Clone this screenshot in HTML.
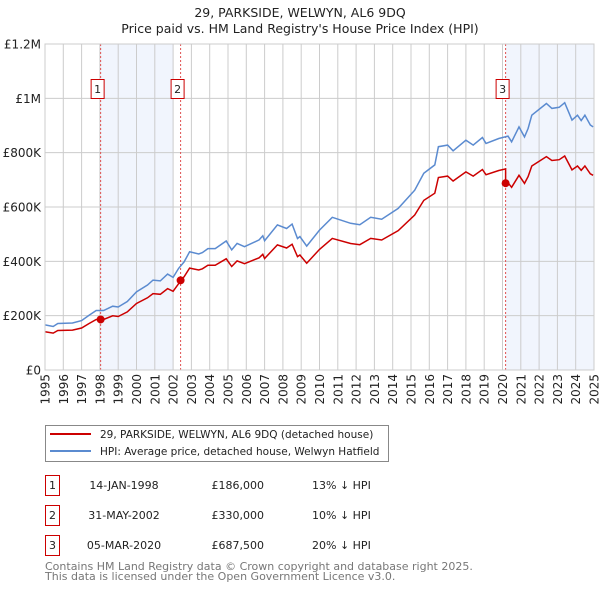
<!DOCTYPE html>
<html><head><meta charset="utf-8"><style>
body{margin:0;background:#fff;}
svg{display:block;font-family:"DejaVu Sans","Liberation Sans",sans-serif;}
</style></head><body>
<svg id="chart" width="600" height="590" viewBox="0 0 600 590" xmlns="http://www.w3.org/2000/svg">
<text x="300" y="17" text-anchor="middle" font-size="12.5" fill="#222">29, PARKSIDE, WELWYN, AL6 9DQ</text>
<text x="300" y="33" text-anchor="middle" font-size="12.5" fill="#222">Price paid vs. HM Land Registry's House Price Index (HPI)</text>
<g id="plot"></g>
<g>
<rect x="45.5" y="425.5" width="343" height="36" fill="#fff" stroke="#888"/>
<line x1="50" y1="434" x2="91" y2="434" stroke="#cc0000" stroke-width="2"/>
<text x="100" y="438" font-size="10.5" fill="#222">29, PARKSIDE, WELWYN, AL6 9DQ (detached house)</text>
<line x1="50" y1="451" x2="91" y2="451" stroke="#5b8bd0" stroke-width="2"/>
<text x="100" y="455" font-size="10.5" fill="#222">HPI: Average price, detached house, Welwyn Hatfield</text>
</g>
<g id="table"></g>
<text x="45" y="570" font-size="11" fill="#777">Contains HM Land Registry data © Crown copyright and database right 2025.</text>
<text x="45" y="580" font-size="11" fill="#777">This data is licensed under the Open Government Licence v3.0.</text>
</svg>
<script>
const hpiYears=[1995.0,1995.45,1995.7,1996.5,1997.0,1997.4,1997.8,1998.2,1998.7,1999.0,1999.5,2000.0,2000.6,2000.9,2001.3,2001.7,2002.0,2002.3,2002.6,2002.9,2003.4,2003.6,2003.9,2004.3,2004.9,2005.2,2005.5,2005.9,2006.7,2006.9,2007.0,2007.7,2008.2,2008.5,2008.8,2008.93,2009.3,2010.0,2010.7,2011.7,2012.2,2012.8,2013.4,2014.3,2015.2,2015.7,2016.3,2016.5,2017.0,2017.3,2018.0,2018.4,2018.9,2019.1,2019.8,2020.3,2020.5,2020.9,2021.2,2021.4,2021.6,2022.4,2022.7,2023.1,2023.4,2023.8,2024.1,2024.3,2024.5,2024.8,2024.95];
const hpiValues=[166,160,171,173,182,201,219,219,235,232,252,288,313,331,328,353,341,374,398,435,427,432,447,447,475,442,466,454,479,494,476,534,521,537,484,491,456,515,562,540,535,562,555,595,662,724,755,822,828,807,846,828,856,834,852,861,840,895,858,889,938,981,963,967,984,920,938,918,938,902,895];
const saleLabels=["1","2","3"];
const saleYears=[1998.04,2002.41,2020.17];
const salePrices=[186000,330000,687500];
const saleDates=["14-JAN-1998","31-MAY-2002","05-MAR-2020"];
const salePriceText=["£186,000","£330,000","£687,500"];
const salePctText=["13% ↓ HPI","10% ↓ HPI","20% ↓ HPI"];
const yTickValues=[0,200000,400000,600000,800000,1000000,1200000];
const yTickLabels=["£0","£200K","£400K","£600K","£800K","£1M","£1.2M"];
const xTickYears=[1995,1996,1997,1998,1999,2000,2001,2002,2003,2004,2005,2006,2007,2008,2009,2010,2011,2012,2013,2014,2015,2016,2017,2018,2019,2020,2021,2022,2023,2024,2025];

const NS="http://www.w3.org/2000/svg";
const X0=45,X1=594,Y0=370,Y1=44;
const xs=y=>X0+(y-1995)/30*(X1-X0);
const ys=v=>Y0-v/1200000*(Y0-Y1);
function mk(tag,attrs,parent){const e=document.createElementNS(NS,tag);for(const k in attrs)e.setAttribute(k,attrs[k]);parent.appendChild(e);return e;}
const plot=document.getElementById('plot');
function hpiAt(t){for(let i=0;i<hpiYears.length-1;i++){if(t<=hpiYears[i+1]){const f=(t-hpiYears[i])/(hpiYears[i+1]-hpiYears[i]);return (hpiValues[i]+f*(hpiValues[i+1]-hpiValues[i]))*1000;}}return hpiValues[hpiValues.length-1]*1000;}

let s1=mk('rect',{x:xs(saleYears[0]),y:Y1,width:xs(2002.0)-xs(saleYears[0]),height:Y0-Y1,fill:'#eef3fc',opacity:0.8},plot);


let s2=mk('rect',{x:xs(saleYears[2]),y:Y1,width:X1-xs(saleYears[2]),height:Y0-Y1,fill:'#eef3fc',opacity:0.8},plot);


yTickValues.forEach((v,i)=>{
 const g=mk('line',{x1:X0,x2:X1,y1:ys(v),y2:ys(v),stroke:'#cccccc','stroke-width':1},plot);
 
 
 const t=mk('text',{x:X0-4,y:ys(v)+4.5,'text-anchor':'end','font-size':12,fill:'#222'},plot);
 
 
 t.textContent=yTickLabels[i];
});
xTickYears.forEach(yr=>{
 const g=mk('line',{x1:xs(yr),x2:xs(yr),y1:Y1,y2:Y0,stroke:'#cccccc','stroke-width':1},plot);
 
 
 const t=mk('text',{x:0,y:0,'text-anchor':'end','font-size':12,fill:'#222',transform:`translate(${xs(yr)+4.5},${Y0+4}) rotate(-90)`},plot);
 
 
 t.textContent=yr;
});
saleYears.forEach((sy,i)=>{
 const l=mk('line',{x1:xs(sy),x2:xs(sy),y1:Y1,y2:Y0,stroke:'#e05050','stroke-width':1,'stroke-dasharray':'2,2'},plot);
 
 
 const r=mk('rect',{x:xs(sy)-9.5,y:79.5,width:13,height:19,fill:'#fff',stroke:'#cc0000'},plot);
 
 
 const t=mk('text',{x:xs(sy)-3,y:93,'text-anchor':'middle','font-size':11,fill:'#222'},plot);
 
 
 t.textContent=saleLabels[i];
});
const hp=hpiYears.map((y,i)=>xs(y).toFixed(1)+','+ys(hpiValues[i]*1000).toFixed(1)).join(' ');
const hl=mk('polyline',{points:hp,fill:'none',stroke:'#5b8bd0','stroke-width':1.5},plot);


function segFactor(t){let k=0;for(let i=0;i<saleYears.length;i++)if(t>=saleYears[i])k=i;return salePrices[k]/hpiAt(saleYears[k]);}
const pts=[];
const times=hpiYears.concat(saleYears).sort((a,b)=>a-b);
times.forEach(t=>{
 saleYears.forEach((sy,i)=>{if(i>0&&Math.abs(t-sy)<1e-9){const f=salePrices[i-1]/hpiAt(saleYears[i-1]);pts.push([t,hpiAt(t)*f]);}});
 pts.push([t,hpiAt(t)*segFactor(t)]);
});
const pl=mk('polyline',{points:pts.map(p=>xs(p[0]).toFixed(1)+','+ys(p[1]).toFixed(1)).join(' '),fill:'none',stroke:'#cc0000','stroke-width':1.5},plot);


saleYears.forEach((sy,i)=>{
 const c=mk('circle',{cx:xs(sy),cy:ys(salePrices[i]),r:4,fill:'#cc0000'},plot);
 
 
});
const fr=mk('rect',{x:X0,y:Y1,width:X1-X0,height:Y0-Y1,fill:'none',stroke:'#cccccc'},plot);


const tb=document.getElementById('table');
saleLabels.forEach((lab,i)=>{
 const y=475+i*30;
 const r=mk('rect',{x:45.5,y:y+0.5,width:14,height:20,fill:'#fff',stroke:'#cc0000'},tb);
 
 
 const tn=mk('text',{x:52.5,y:y+14,'text-anchor':'middle','font-size':11,fill:'#222'},tb);
 
 
 tn.textContent=lab;
 const td=mk('text',{x:124,y:y+14,'text-anchor':'middle','font-size':11,fill:'#222'},tb);
 
 
 td.textContent=saleDates[i];
 const tp=mk('text',{x:264,y:y+14,'text-anchor':'end','font-size':11,fill:'#222'},tb);
 
 
 tp.textContent=salePriceText[i];
 const tc=mk('text',{x:312,y:y+14,'font-size':11,fill:'#222'},tb);
 
 
 tc.textContent=salePctText[i];
});
</script>
</body></html>
